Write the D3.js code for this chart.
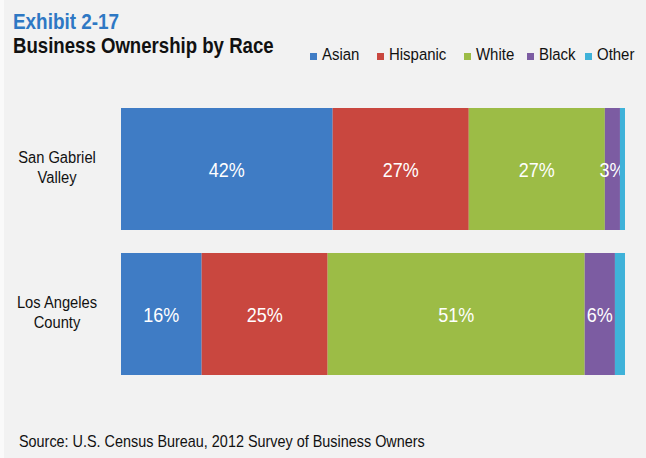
<!DOCTYPE html>
<html>
<head>
<meta charset="utf-8">
<script src="https://cdn.jsdelivr.net/npm/d3@7"></script>
<style>
  html, body { margin: 0; padding: 0; background: #f2f2f2; }
  svg { display: block; font-family: "Liberation Sans", Arial, sans-serif; }
</style>
</head>
<body>
<svg id="chart" width="646" height="458"></svg>
<script>
// Business ownership shares by race, two regions
const regions = ["San Gabriel Valley", "Los Angeles County"];
const regionLines = [["San Gabriel", "Valley"], ["Los Angeles", "County"]];
const races = ["Asian", "Hispanic", "White", "Black", "Other"];
const asian    = [42, 16];
const hispanic = [27, 25];
const white    = [27, 51];
const black    = [3, 6];
const other    = [1, 2];
const colors = ["#3f7cc5", "#c9473f", "#9cbc46", "#7c5ca2", "#3fb2d9"];

const rows = regions.map((r, i) => ({
  region: r,
  Asian: asian[i], Hispanic: hispanic[i], White: white[i], Black: black[i], Other: other[i]
}));

const svg = d3.select("#chart");
const W = 646, H = 458;

svg.append("rect").attr("width", W).attr("height", H).attr("fill", "#f2f2f2");
svg.append("rect").attr("x", 0).attr("y", 0).attr("width", 4).attr("height", H).attr("fill", "#fafafa");

const x = d3.scaleLinear().domain([0, 100]).range([121, 625]);
const y = d3.scaleBand().domain(regions).range([108, 375]).paddingInner(0.1586).paddingOuter(0);
const color = d3.scaleOrdinal().domain(races).range(colors);

const stacked = d3.stack().keys(races)(rows);

const layers = svg.append("g").selectAll("g")
  .data(stacked).join("g")
  .attr("fill", d => color(d.key));

layers.selectAll("rect")
  .data(d => d.map(p => ({ key: d.key, p })))
  .join("rect")
  .attr("x", d => x(d.p[0]))
  .attr("y", d => y(d.p.data.region))
  .attr("width", d => x(d.p[1]) - x(d.p[0]))
  .attr("height", y.bandwidth());

// value labels (all but the thin "Other" slice), drawn slightly condensed
layers.filter(d => d.key !== "Other").selectAll("text")
  .data(d => d.map(p => ({ key: d.key, p })))
  .join("text")
  .attr("transform", d => `translate(${(x(d.p[0]) + x(d.p[1])) / 2},${y(d.p.data.region) + y.bandwidth() / 2 + 8}) scale(0.9,1)`)
  .attr("text-anchor", "middle")
  .attr("fill", "#ffffff")
  .attr("font-size", 20)
  .text(d => (d.p[1] - d.p[0]) + "%");

// category labels
const cat = svg.append("g");
regions.forEach((r, i) => {
  const cy = y(r) + y.bandwidth() / 2;
  const t = cat.append("text")
    .attr("transform", `translate(57,${cy - 6}) scale(0.92,1)`)
    .attr("text-anchor", "middle")
    .attr("font-size", 16)
    .attr("fill", "#111");
  regionLines[i].forEach((line, j) => {
    t.append("tspan").attr("x", 0).attr("y", j * 20.5).text(line);
  });
});

// titles (condensed heading style)
svg.append("text")
  .attr("transform", "translate(13,29) scale(0.86,1)")
  .attr("font-size", 22).attr("font-weight", "bold")
  .attr("fill", "#2e78c4")
  .text("Exhibit 2-17");
svg.append("text")
  .attr("transform", "translate(13,53) scale(0.81,1)")
  .attr("font-size", 23).attr("font-weight", "bold")
  .attr("fill", "#111")
  .text("Business Ownership by Race");

// legend
const legendX = [310, 377, 464, 527, 585];
const legend = svg.append("g").selectAll("g")
  .data(races).join("g")
  .attr("transform", (d, i) => `translate(${legendX[i]},0)`);
legend.append("rect")
  .attr("x", 0).attr("y", 53).attr("width", 7).attr("height", 7)
  .attr("fill", d => color(d));
legend.append("text")
  .attr("transform", "translate(12,60) scale(0.88,1)")
  .attr("font-size", 17).attr("fill", "#111")
  .text(d => d);

// source note
svg.append("text")
  .attr("transform", "translate(19,447) scale(0.9,1)")
  .attr("font-size", 16).attr("fill", "#111")
  .text("Source: U.S. Census Bureau, 2012 Survey of Business Owners");
</script>
</body>
</html>
